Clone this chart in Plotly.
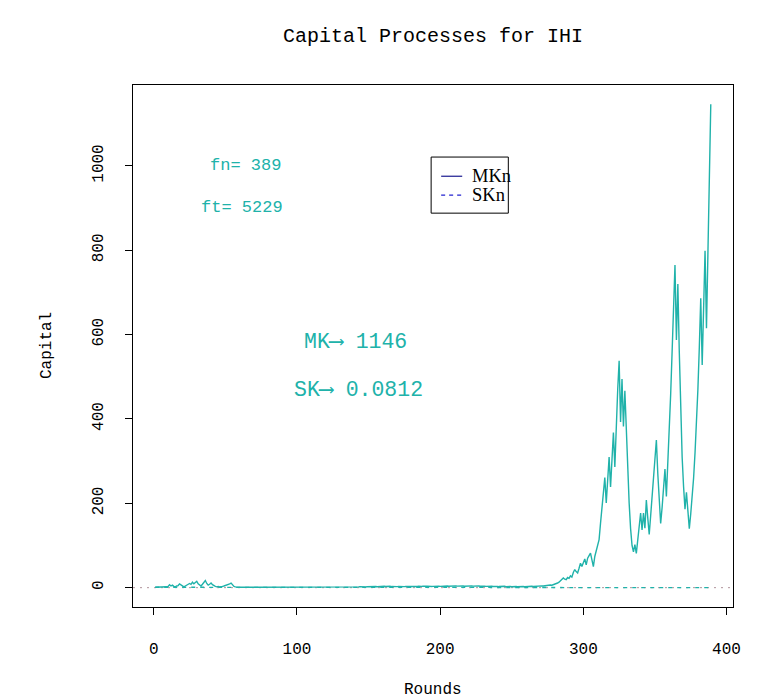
import plotly.graph_objects as go

# ---------------- data ----------------
mk_values = [
    # rounds 1-60
    1, 1, 1, 1, 2, 1, 2, 1, 2, 3,
    7, 4, 6, 3, 2, 4, 5, 9, 6, 3,
    2, 4, 6, 8, 10, 8, 13, 9, 11, 15,
    9, 6, 4, 8, 12, 17, 10, 6, 8, 11,
    7, 4, 3, 2, 3, 2, 2, 3, 4, 5,
    6, 8, 9, 11, 6, 3, 2, 1, 1, 1,
    # rounds 61-270
    1, 1, 0.8, 0.7, 0.9, 0.6, 0.5, 0.7, 0.6, 0.5,
    0.6, 0.5, 0.4, 0.5, 0.6, 0.4, 0.5, 0.4, 0.3, 0.4,
    0.5, 0.4, 0.3, 0.4, 0.3, 0.4, 0.5, 0.4, 0.3, 0.3,
    0.4, 0.3, 0.4, 0.5, 0.4, 0.3, 0.4, 0.3, 0.3, 0.4,
    0.5, 0.6, 0.5, 0.4, 0.5, 0.7, 0.6, 0.5, 0.6, 0.8,
    0.7, 0.6, 0.8, 0.9, 0.7, 0.8, 1.0, 0.9, 0.8, 1.1,
    1.0, 0.9, 1.2, 1.1, 1.0, 1.3, 1.2, 1.4, 1.1, 1.3,
    1.5, 1.2, 1.4, 1.6, 1.3, 1.5, 1.8, 1.4, 1.6, 1.9,
    1.7, 1.5, 1.9, 2.2, 1.8, 2.0, 2.4, 1.9, 2.1, 2.5,
    2.2, 2.6, 2.1, 2.4, 2.8, 2.3, 2.7, 3.1, 2.5, 2.9,
    3.3, 2.8, 3.5, 2.9, 3.2, 2.6, 3.0, 3.4, 2.7, 2.5,
    2.8, 2.3, 2.6, 2.1, 2.4, 2.8, 2.2, 2.6, 3.0, 2.4,
    2.7, 3.1, 2.5, 2.9, 3.3, 2.6, 3.0, 3.5, 2.8, 3.2,
    3.6, 3.0, 3.4, 2.8, 3.1, 3.5, 2.9, 3.3, 3.7, 3.1,
    3.5, 3.9, 3.2, 3.6, 4.0, 3.3, 3.8, 4.2, 3.5, 3.9,
    4.3, 3.6, 4.0, 4.4, 3.7, 4.1, 3.4, 3.8, 4.2, 3.5,
    3.9, 4.3, 3.6, 4.0, 3.3, 3.7, 4.1, 3.4, 3.8, 3.2,
    3.6, 3.0, 3.4, 3.8, 3.1, 3.5, 2.9, 3.3, 2.7, 3.1,
    2.6, 3.0, 3.4, 2.8, 3.2, 2.5, 2.9, 2.4, 2.8, 2.3,
    2.7, 2.2, 2.6, 2.1, 2.5, 2.0, 2.4, 2.8, 2.3, 2.7,
    2.5, 3.0, 2.7, 3.2, 2.9, 3.4, 3.1, 3.6, 3.3, 3.8,
    # rounds 271-389
    4.2, 3.9, 4.6, 5.1, 4.8, 5.6, 6.2, 5.9, 7.0, 7.8,
    9, 11, 13, 16, 19, 23, 20, 19, 24, 22,
    28, 25, 36, 43, 38, 35, 46, 58, 50, 62,
    68, 54, 70, 76, 82, 66, 50, 74, 86, 98,
    114, 153, 190, 225, 261, 201, 255, 310, 239, 305,
    368, 286, 400, 470, 538, 393, 495, 382, 467, 370,
    280, 200, 140, 100, 85, 102, 81, 110, 145, 177,
    137, 177, 141, 208, 165, 126, 170, 215, 260, 305,
    350, 270, 200, 152, 190, 235, 281, 216, 290, 370,
    460, 560, 660, 765, 587, 720, 560, 420, 310, 240,
    186, 226, 175, 140, 175, 215, 260, 320, 390, 470,
    570, 686, 528, 660, 799, 615, 792, 969, 1146,
]
mk_rounds = list(range(1, len(mk_values) + 1))

sk_rounds = [1, 50, 100, 150, 200, 250, 300, 350, 389]
sk_values = [1.0, 0.9, 0.7, 0.6, 0.5, 0.4, 0.3, 0.15, 0.0812]

x_ticks = [0, 100, 200, 300, 400]
y_ticks = [0, 200, 400, 600, 800, 1000]

title_text = "Capital Processes for IHI"
x_label = "Rounds"
y_label = "Capital"
legend_labels = ["MKn", "SKn"]
info_texts = ["fn= 389", "ft= 5229"]
final_texts = ["MK\u27f6 1146", "SK\u27f6 0.0812"]

# ---------------- style ----------------
CYAN = "#20B2AA"
MONO = "Liberation Mono, Courier New, monospace"
SERIF = "Liberation Serif, Times New Roman, serif"

n = len(mk_values)
xpad = (n - 1) * 0.04
x_range = [1 - xpad, n + xpad]
ymax = max(mk_values)
ypad = ymax * 0.04
y_range = [0 - ypad, ymax + ypad]

fig = go.Figure()

# horizontal dotted reference line at 0
fig.add_shape(type="line", xref="paper", yref="y", x0=0, x1=1, y0=0, y1=0,
              line=dict(color="#b0939c", width=1, dash="2px,5px"), layer="below")

fig.add_trace(go.Scatter(x=sk_rounds, y=sk_values, mode="lines",
                         line=dict(color=CYAN, width=1.3, dash="4px,5px"),
                         showlegend=False, hoverinfo="skip"))
fig.add_trace(go.Scatter(x=mk_rounds, y=mk_values, mode="lines",
                         line=dict(color=CYAN, width=1.4),
                         showlegend=False, hoverinfo="skip"))

# ---------------- legend box (drawn manually, R style) ----------------
lx0, lx1 = 193.7, 247.6
ly0, ly1 = 888.0, 1021.0
fig.add_shape(type="rect", xref="x", yref="y", x0=lx0, x1=lx1, y0=ly0, y1=ly1,
              line=dict(color="black", width=1), fillcolor="white")
leg_y = [975.5, 930.5]
leg_styles = [dict(color="#1a1a90", width=1.2, dash="solid"),
              dict(color="#2222d0", width=1.2, dash="4px,4px")]
for yy, lab, st in zip(leg_y, legend_labels, leg_styles):
    fig.add_shape(type="line", xref="x", yref="y", x0=200.7, x1=215.4, y0=yy, y1=yy,
                  line=st)
    fig.add_annotation(x=221.0, y=yy, xref="x", yref="y", text=lab, showarrow=False,
                       xanchor="left", yanchor="middle",
                       font=dict(family=SERIF, size=18.5, color="black"))

# ---------------- texts ----------------
info_pos = [(64, 1000), (61.5, 902)]
for (xx, yy), t in zip(info_pos, info_texts):
    fig.add_annotation(x=xx, y=yy, xref="x", yref="y", text=t, showarrow=False,
                       xanchor="center", yanchor="middle",
                       font=dict(family=MONO, size=17, color=CYAN))
final_pos = [(141, 583), (143, 469)]
for (xx, yy), t in zip(final_pos, final_texts):
    fig.add_annotation(x=xx, y=yy, xref="x", yref="y", text=t, showarrow=False,
                       xanchor="center", yanchor="middle",
                       font=dict(family=MONO, size=21.5, color=CYAN))

# axis titles
fig.add_annotation(x=0.5, y=(606 - 689) / 521, xref="paper", yref="paper",
                   text=x_label, showarrow=False, xanchor="center", yanchor="middle",
                   font=dict(family=MONO, size=16, color="black"))
fig.add_annotation(x=(47 - 133) / 600, y=0.5, xref="paper", yref="paper",
                   text=y_label, textangle=-90, showarrow=False,
                   xanchor="center", yanchor="middle",
                   font=dict(family=MONO, size=16, color="black"))

fig.update_layout(
    width=773, height=700,
    margin=dict(l=133, r=40, t=85, b=93),
    paper_bgcolor="white", plot_bgcolor="white",
    title=dict(text=title_text, x=0.5, xanchor="center", xref="paper",
               y=(700 - 35) / 700, yanchor="middle",
               font=dict(family=MONO, size=20, color="black")),
    showlegend=False,
)
fig.update_xaxes(range=x_range, tickvals=x_ticks, ticktext=[str(v) for v in x_ticks],
                 showgrid=False, zeroline=False, showline=True, mirror=True,
                 linecolor="black", linewidth=1, ticks="outside", ticklen=7,
                 tickcolor="black", ticklabelstandoff=20,
                 tickfont=dict(family=MONO, size=16, color="black"))
fig.update_yaxes(range=y_range, tickvals=y_ticks, ticktext=[str(v) for v in y_ticks],
                 showgrid=False, zeroline=False, showline=True, mirror=True,
                 linecolor="black", linewidth=1, ticks="outside", ticklen=7,
                 tickcolor="black", tickangle=-90, ticklabelstandoff=16,
                 tickfont=dict(family=MONO, size=16, color="black"))

fig.write_html("out.html")
